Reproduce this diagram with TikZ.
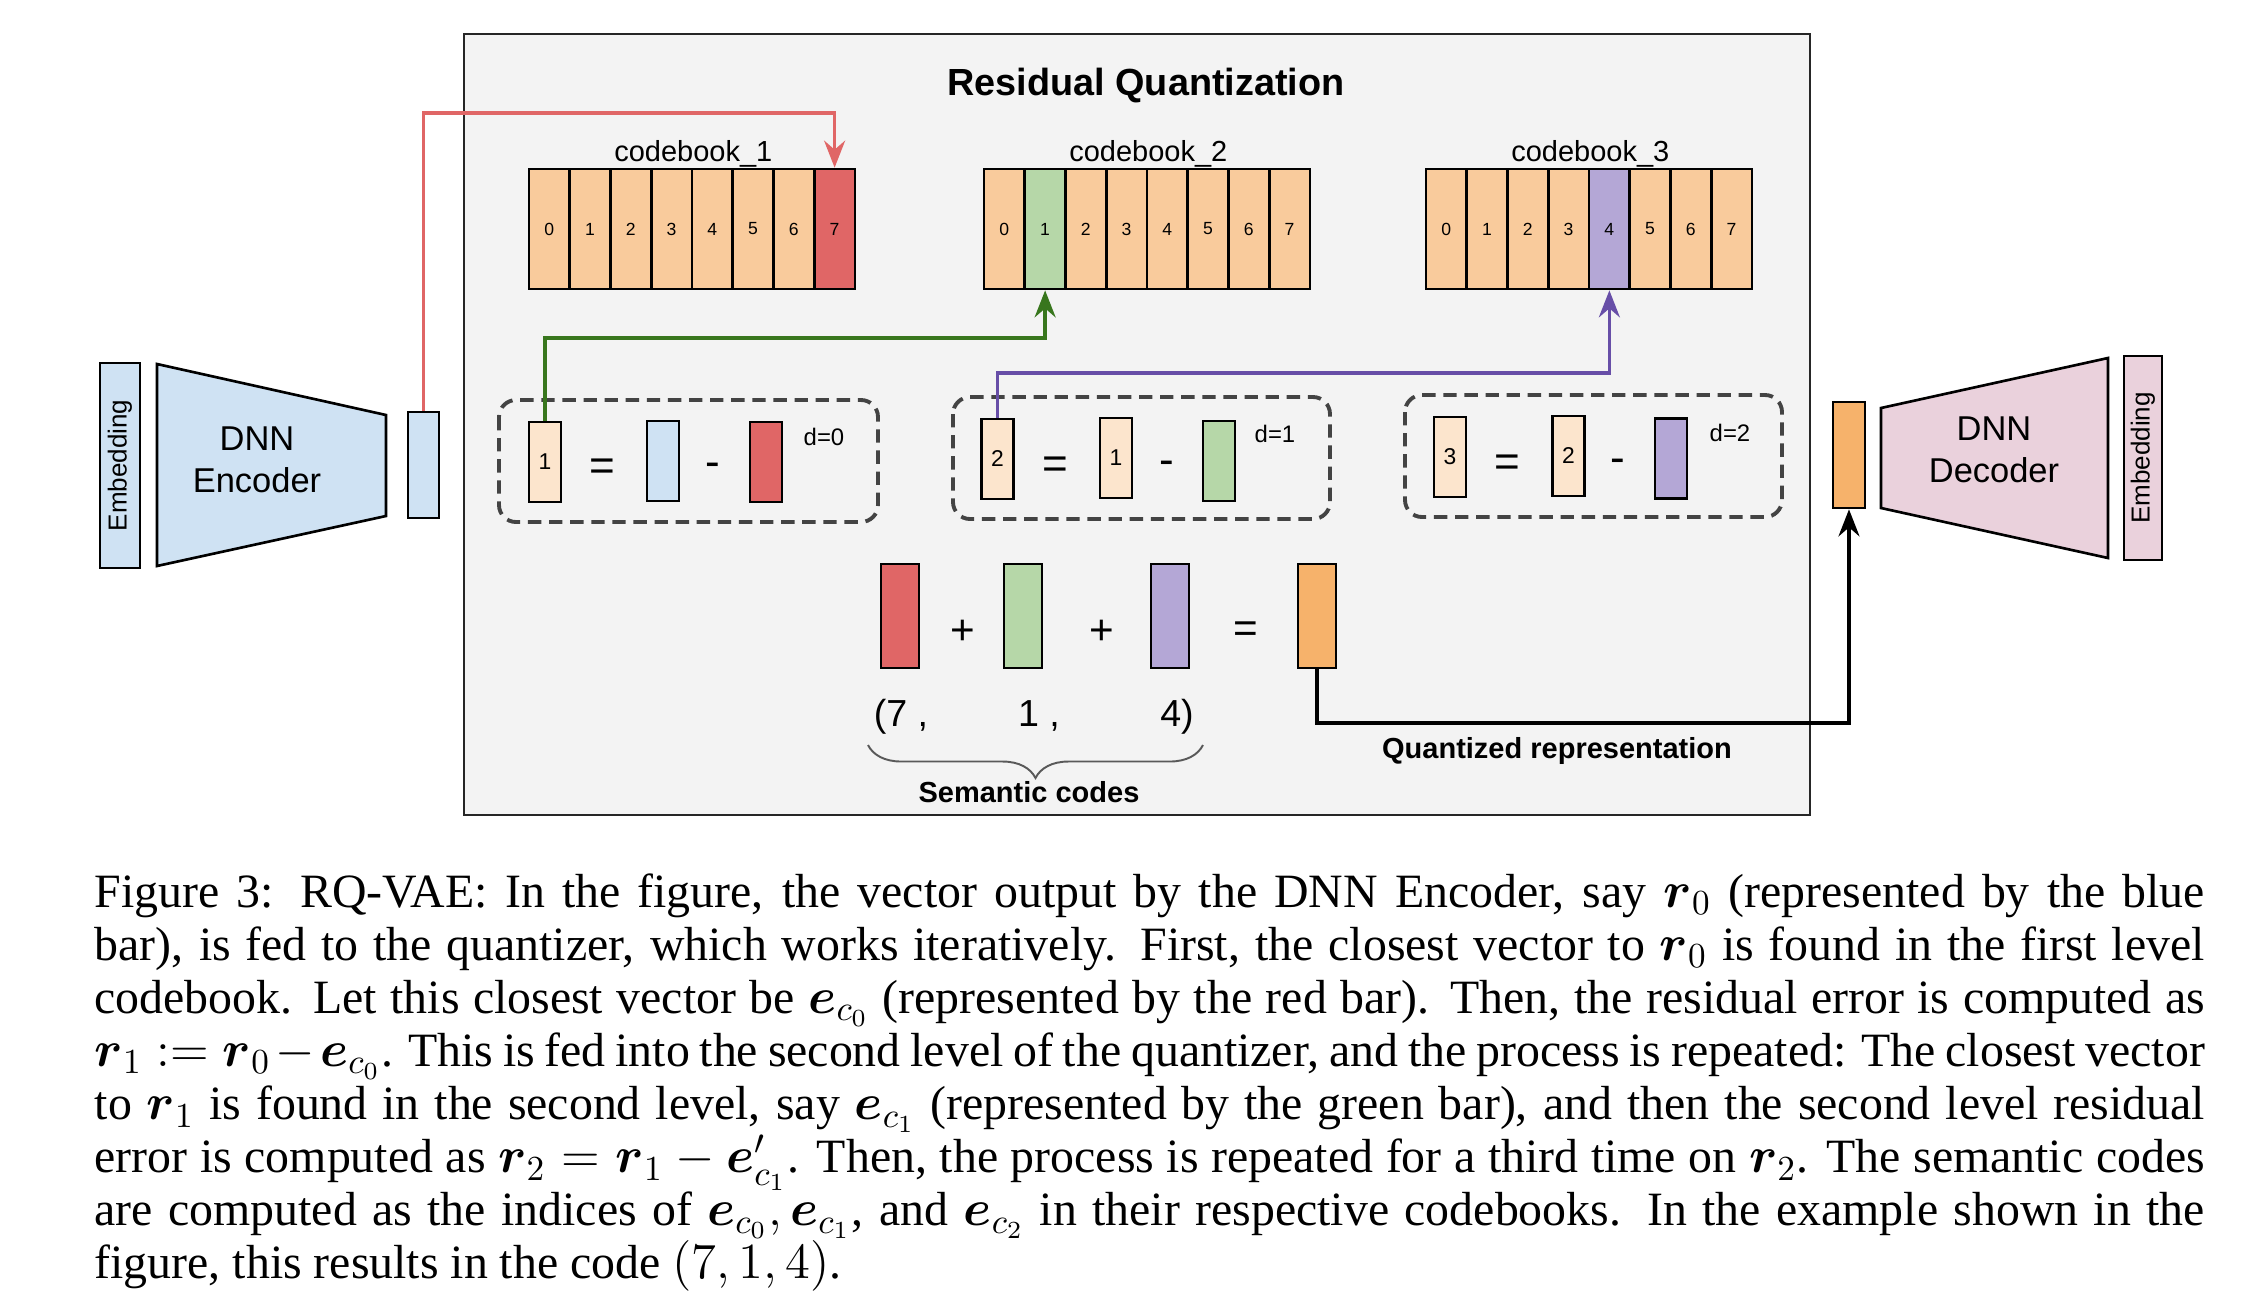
\documentclass[tikz,border=0pt]{standalone}
\usepackage{amsmath}
\usepackage[no-math]{fontspec}
\setmainfont{Liberation Serif}
\setsansfont{Liberation Sans}
\usetikzlibrary{arrows.meta, decorations.pathreplacing, calc}

\definecolor{panelGray}{HTML}{F3F3F3}
\definecolor{cbPeach}{HTML}{F9CB9C}
\definecolor{resPeach}{HTML}{FCE5CD}
\definecolor{cbRed}{HTML}{E06666}
\definecolor{cbGreen}{HTML}{B6D7A8}
\definecolor{cbPurple}{HTML}{B4A7D6}
\definecolor{sumOrange}{HTML}{F6B26B}
\definecolor{encBlue}{HTML}{CFE2F3}
\definecolor{decPink}{HTML}{EAD1DC}
\definecolor{lineGreen}{HTML}{38761D}
\definecolor{linePurple}{HTML}{674EA7}
\definecolor{dashGray}{HTML}{434343}
\definecolor{braceGray}{HTML}{595959}

\begin{document}
\begin{tikzpicture}[x=0.01cm, y=-0.01cm,
	cell/.style={draw, line width=0.75pt, fill=cbPeach, minimum width=0.4075cm, minimum height=1.2cm, inner sep=0pt, font=\sffamily\fontsize{5}{6}\selectfont},
	bar/.style={draw, line width=0.75pt, minimum width=0.32cm, minimum height=0.8cm, inner sep=0pt, font=\sffamily\fontsize{6.5}{8}\selectfont},
	sumbar/.style={draw, line width=0.75pt, minimum width=0.38cm, minimum height=1.04cm, inner sep=0pt},
	embbar/.style={draw, line width=0.75pt, rotate=90, minimum width=2.05cm, minimum height=0.4cm, inner sep=0pt, font=\sffamily\fontsize{7.4}{9}\selectfont},
	groupbox/.style={draw=dashGray, line width=1.1pt, dash pattern=on 3.8pt off 2.2pt, rounded corners=0.17cm},
	feed/.style={line width=1pt, -{Stealth[length=0.27cm, width=0.21cm, inset=0.09cm]}},
	cblabel/.style={font=\sffamily\fontsize{8.25}{10}\selectfont, inner sep=0pt},
	dlabel/.style={font=\sffamily\fontsize{6.8}{8}\selectfont, inner sep=0pt},
	oplabel/.style={font=\sffamily\fontsize{12.5}{15}\selectfont, inner sep=0pt},
	sumop/.style={font=\sffamily\fontsize{12}{14}\selectfont, inner sep=0pt},
	codes/.style={font=\sffamily\fontsize{10.7}{12}\selectfont, inner sep=0pt},
	boldlbl/.style={font=\sffamily\bfseries\fontsize{8.25}{10}\selectfont, inner sep=0pt},
	dnn/.style={font=\sffamily\fontsize{9.8}{11.9}\selectfont, align=center, inner sep=0pt}]
	\path[fill=white] (0,0) rectangle (2268,1308);
	\useasboundingbox (0,0) rectangle (2268,1308);
	% quantizer panel
	\draw[fill=panelGray, draw=black!85, line width=0.6pt] (464,34) rectangle (1810,815);
	\node[font=\sffamily\bfseries\fontsize{10.75}{13}\selectfont, anchor=base, inner sep=0pt] (rqTitle) at (1146,95) {Residual Quantization};
	% codebooks
	\foreach \book/\bx/\hi/\hcol/\lab in {A/529/7/cbRed/1, B/984/1/cbGreen/2, C/1426/4/cbPurple/3} {
		\foreach \i in {0,...,7} {
			\ifnum\i=\hi\relax\edef\fc{\hcol}\else\edef\fc{cbPeach}\fi
			\node[cell, fill=\fc] (cb\book\i) at ({\bx+40.75*(\i+0.5)},229) {\i};
		}
		\node[cblabel, anchor=base] (cbl\book) at ($(cb\book3.north east)+(0,-6)$) {codebook\_\lab};
	}
	% encoder side
	\node[embbar, fill=encBlue] (embL) at (120,465.5) {Embedding};
	\draw[fill=encBlue, line width=0.75pt] (157,364) -- (386,415) -- (386,516) -- (157,566) -- cycle;
	\node[dnn] (encText) at (257,460) {DNN\\Encoder};
	\node[bar, fill=encBlue, minimum width=0.31cm, minimum height=1.06cm] (encOut) at (423.5,465) {};
	% residual steps
	\draw[groupbox] (499,400) rectangle (878,522);
	\node[bar, fill=resPeach] (resA) at (545,462) {1};
	\node[oplabel] (eqA) at (602,470) {=};
	\node[bar, fill=encBlue] (inA) at (663,461) {};
	\node[oplabel] (minA) at (713,470) {-};
	\node[bar, fill=cbRed] (qA) at (766,462) {};
	\node[dlabel, anchor=base] (dA) at (824,445) {d=0};
	\draw[groupbox] (953,397) rectangle (1330,519);
	\node[bar, fill=resPeach] (resB) at (997.5,459) {2};
	\node[oplabel] (eqB) at (1055,468) {=};
	\node[bar, fill=resPeach] (inB) at (1116,458) {1};
	\node[oplabel] (minB) at (1167,468) {-};
	\node[bar, fill=cbGreen] (qB) at (1219,461) {};
	\node[dlabel, anchor=base] (dB) at (1275,442) {d=1};
	\draw[groupbox] (1405,395) rectangle (1782,517);
	\node[bar, fill=resPeach] (resC) at (1450,457) {3};
	\node[oplabel] (eqC) at (1507,466) {=};
	\node[bar, fill=resPeach] (inC) at (1568.5,456) {2};
	\node[oplabel] (minC) at (1618,466) {-};
	\node[bar, fill=cbPurple] (qC) at (1671,458.5) {};
	\node[dlabel, anchor=base] (dC) at (1730,441) {d=2};
	% sum of the chosen vectors
	\node[sumbar, fill=cbRed] (sumA) at (900,616) {};
	\node[sumop] (plA) at (963,632) {+};
	\node[sumbar, fill=cbGreen] (sumB) at (1023,616) {};
	\node[sumop] (plB) at (1102,632) {+};
	\node[sumbar, fill=cbPurple] (sumC) at (1170,616) {};
	\node[sumop] (eqS) at (1246,632) {=};
	\node[sumbar, fill=sumOrange] (sumQ) at (1317,616) {};
	\node[codes, anchor=base] (codeA) at (901,726) {(7 ,};
	\node[codes, anchor=base] (codeB) at (1039,726) {1 ,};
	\node[codes, anchor=base] (codeC) at (1177,726) {4)};
	\draw[decorate, decoration={brace, mirror, amplitude=0.33cm}, draw=braceGray, line width=0.55pt] (868,745) -- (1203,745);
	\node[boldlbl, anchor=base] (semCodes) at (1029,802) {Semantic codes};
	\node[boldlbl, anchor=base] (quantRep) at (1557,758) {Quantized representation};
	% decoder side
	\node[bar, fill=sumOrange, minimum height=1.06cm] (decIn) at (1849,455) {};
	\draw[fill=decPink, line width=0.75pt] (1881,408) -- (2108,358) -- (2108,558) -- (1881,508) -- cycle;
	\node[dnn] (decText) at (1994,450) {DNN\\Decoder};
	\node[embbar, fill=decPink, minimum width=2.04cm, minimum height=0.38cm] (embR) at (2143,458) {Embedding};
	% connectors
	\coordinate (redLvl) at (0,113);
	\coordinate (greenLvl) at (0,338);
	\coordinate (purpleLvl) at (0,373);
	\coordinate (blackLvl) at (0,723);
	\draw[feed, cbRed] (encOut.north) -- (encOut.north |- redLvl) -| (cbA7.north);
	\draw[feed, lineGreen] (resA.north) -- (resA.north |- greenLvl) -| (cbB1.south);
	\draw[feed, linePurple] (resB.north) -- (resB.north |- purpleLvl) -| (cbC4.south);
	\draw[feed, black] (sumQ.south) -- (sumQ.south |- blackLvl) -| (decIn.south);
	% caption
	\node[anchor=base west, text width=21.09cm, align=justify, inner sep=0pt, font=\rmfamily\fontsize{13.6}{15.1}\selectfont] (figCaption) at (94,907) {Figure 3: RQ-VAE: In the figure, the vector output by the DNN Encoder, say $\boldsymbol{r}_0$ (represented by the blue\linebreak
	bar), is fed to the quantizer, which works iteratively. First, the closest vector to $\boldsymbol{r}_0$ is found in the first level\linebreak
	codebook. Let this closest vector be $\boldsymbol{e}_{c_0}$ (represented by the red bar). Then, the residual error is computed as\linebreak
	$\boldsymbol{r}_1 := \boldsymbol{r}_0 - \boldsymbol{e}_{c_0}$. This is fed into the second level of the quantizer, and the process is repeated: The closest vector\linebreak
	to $\boldsymbol{r}_1$ is found in the second level, say $\boldsymbol{e}_{c_1}$ (represented by the green bar), and then the second level residual\linebreak
	error is computed as $\boldsymbol{r}_2 = \boldsymbol{r}_1 - \boldsymbol{e}'_{c_1}$. Then, the process is repeated for a third time on $\boldsymbol{r}_2$. The semantic codes\linebreak
	are computed as the indices of $\boldsymbol{e}_{c_0}, \boldsymbol{e}_{c_1}$, and $\boldsymbol{e}_{c_2}$ in their respective codebooks. In the example shown in the\linebreak
	figure, this results in the code $(7, 1, 4)$.};
\end{tikzpicture}
\end{document}
